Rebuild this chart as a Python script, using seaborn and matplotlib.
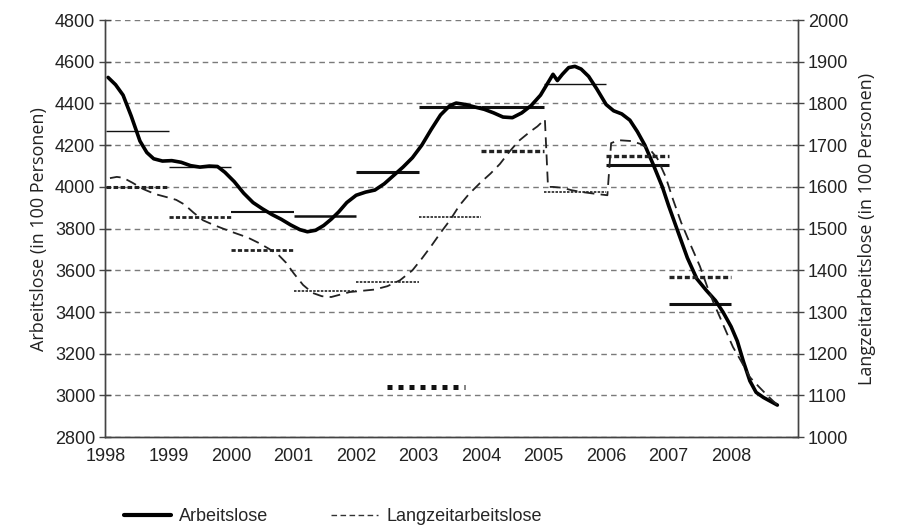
import matplotlib
matplotlib.use("Agg")
import matplotlib.pyplot as plt
from matplotlib.lines import Line2D
import pandas as pd
import seaborn as sns


# Arbeitslose (left axis, in 100 Personen)
al_x = [1998.03, 1998.15, 1998.27, 1998.40, 1998.54, 1998.65, 1998.76, 1998.90, 1999.05,
        1999.20, 1999.35, 1999.50, 1999.65, 1999.78, 1999.90, 2000.05, 2000.20, 2000.35,
        2000.50, 2000.65, 2000.80, 2000.95, 2001.10, 2001.22, 2001.35, 2001.48, 2001.60,
        2001.72, 2001.85, 2002.00, 2002.15, 2002.30, 2002.45, 2002.60, 2002.75, 2002.90,
        2003.05, 2003.20, 2003.35, 2003.50, 2003.60, 2003.75, 2003.90, 2004.05, 2004.20,
        2004.35, 2004.50, 2004.65, 2004.80, 2004.95, 2005.08, 2005.15, 2005.22, 2005.30,
        2005.40, 2005.50, 2005.60, 2005.72, 2005.85, 2006.00, 2006.12, 2006.25, 2006.38,
        2006.50, 2006.62, 2006.75, 2006.90, 2007.00, 2007.14, 2007.30, 2007.45, 2007.60,
        2007.75, 2007.87, 2008.00, 2008.10, 2008.20, 2008.30, 2008.40, 2008.52, 2008.74]
al_y = [4525, 4490, 4440, 4340, 4220, 4165, 4135, 4124, 4126,
        4118, 4102, 4095, 4100, 4098, 4070, 4025, 3970, 3925,
        3895, 3868, 3845, 3818, 3795, 3785, 3792, 3815, 3845,
        3880, 3925, 3960, 3975, 3985, 4015, 4055, 4095, 4140,
        4200, 4275, 4345, 4390, 4402, 4395, 4383, 4372, 4355,
        4335, 4332, 4355, 4390, 4440, 4505, 4540, 4510, 4540,
        4572, 4578, 4565, 4530, 4470, 4395, 4365, 4350, 4320,
        4265, 4200, 4110, 4000, 3910, 3793, 3660, 3560, 3505,
        3455, 3400, 3330, 3260, 3160, 3070, 3015, 2990, 2954]

# Langzeitarbeitslose (right axis, in 100 Personen)
lz_x = [1998.06, 1998.17, 1998.27, 1998.42, 1998.59, 1998.78, 1998.98, 1999.12, 1999.25,
        1999.40, 1999.55, 1999.70, 1999.87, 2000.05, 2000.26, 2000.45, 2000.60, 2000.75,
        2000.88, 2001.00, 2001.15, 2001.30, 2001.45, 2001.60, 2001.75, 2001.90, 2002.10,
        2002.30, 2002.50, 2002.70, 2002.90, 2003.05, 2003.20, 2003.35, 2003.50, 2003.65,
        2003.80, 2003.98, 2004.15, 2004.30, 2004.45, 2004.60, 2004.78, 2004.90, 2005.02,
        2005.07, 2005.15, 2005.30, 2005.45, 2005.60, 2005.80, 2006.02, 2006.08, 2006.20,
        2006.40, 2006.55, 2006.70, 2006.82, 2006.95, 2007.07, 2007.20, 2007.34, 2007.50,
        2007.62, 2007.72, 2007.82, 2007.93, 2008.03, 2008.15, 2008.30, 2008.45, 2008.60,
        2008.74]
lz_y = [1621, 1624, 1622, 1610, 1595, 1583, 1575, 1569, 1558,
        1538, 1520, 1510, 1500, 1490, 1479, 1465, 1452, 1438,
        1418, 1393, 1365, 1346, 1338, 1336, 1342, 1348, 1351,
        1354, 1362, 1376, 1400, 1428, 1458, 1490, 1520, 1555,
        1582, 1609, 1632, 1655, 1684, 1710, 1732, 1745, 1762,
        1600, 1600, 1598, 1592, 1588, 1584, 1580, 1705, 1712,
        1710, 1703, 1690, 1668, 1625, 1570, 1515, 1465, 1410,
        1360, 1322, 1288, 1250, 1216, 1185, 1144, 1120, 1097,
        1077]

# yearly means
years = [1998, 1999, 2000, 2001, 2002, 2003, 2004, 2005, 2006, 2007]
al_mean = [4268, 4095, 3879, 3860, 4071, 4385, 4383, 4493, 4105, 3438]
lz_mean = [1600, 1527, 1448, 1350, 1372, 1527, 1686, 1588, 1674, 1384]

# stray marker in the plot area
stray_x = [2002.5, 2003.74]
stray_y = [3040, 3040]

x_ticks = list(range(1998, 2010))
x_labels = [str(y) for y in range(1998, 2009)] + [""]


def main():
    sns.set_style("white")
    plt.rcParams["font.family"] = ["Liberation Sans", "DejaVu Sans"]
    ink = "#222222"

    fig, ax = plt.subplots(figsize=(8.97, 5.28), dpi=100)
    fig.subplots_adjust(left=0.117, right=0.8896, top=0.962, bottom=0.172)
    ax2 = ax.twinx()

    al = pd.DataFrame({"jahr": al_x, "wert": al_y})
    lz = pd.DataFrame({"jahr": lz_x, "wert": lz_y})

    # grid
    for v in range(2800, 4801, 200):
        ax.axhline(v, color="#7a7a7a", lw=1.0, ls=(0, (4, 3)), zorder=0)

    sns.lineplot(data=al, x="jahr", y="wert", ax=ax, color="black", lw=2.6,
                 estimator=None, sort=False, zorder=5, solid_joinstyle="round")
    sns.lineplot(data=lz, x="jahr", y="wert", ax=ax2, color="#222222", lw=1.3,
                 ls=(0, (6, 3.5)), estimator=None, sort=False, zorder=5)

    al_lw = [1.0, 1.0, 1.5, 1.8, 2.2, 2.2, 2.2, 1.0, 2.2, 2.2]
    lz_lw = [2.2, 2.0, 2.0, 1.2, 1.2, 1.2, 2.4, 1.2, 2.4, 2.4]
    for yr, m, w in zip(years, al_mean, al_lw):
        ax.plot([yr, yr + 1], [m, m], color="#111111", lw=w, solid_capstyle="butt", zorder=4)
    for yr, m, w in zip(years, lz_mean, lz_lw):
        ax2.plot([yr, yr + 1], [m, m], color="#222222", lw=w, ls=(0, (1.5, 0.8)), zorder=4)

    ax.plot(stray_x, stray_y, color="#111111", lw=3.6, ls=(0, (1, 1.2)), zorder=4)

    ax.set_xlim(1997.98, 2009.07)
    ax.set_ylim(2800, 4800)
    ax2.set_ylim(1000, 2000)
    ax.set_xticks(x_ticks)
    ax.set_xticklabels(x_labels)
    ax.set_yticks(range(2800, 4801, 200))
    ax2.set_yticks(range(1000, 2001, 100))

    ax.set_xlabel("")
    ax2.set_xlabel("")
    ax.set_ylabel("Arbeitslose (in 100 Personen)", fontsize=13, color=ink,
                  family=["Open Sans", "DejaVu Sans"], labelpad=5)
    ax2.set_ylabel("Langzeitarbeitslose (in 100 Personen)", fontsize=13, color=ink,
                   family=["Open Sans", "DejaVu Sans"], labelpad=7)

    ax.tick_params(axis="y", direction="inout", length=8, width=1, colors="#444444",
                   labelcolor=ink, labelsize=13, pad=3)
    ax.tick_params(axis="x", direction="out", length=5, width=1, colors="#444444",
                   labelcolor=ink, labelsize=13, pad=3)
    ax2.tick_params(axis="y", direction="inout", length=8, width=1, colors="#444444",
                    labelcolor=ink, labelsize=13, pad=3)

    for a in (ax, ax2):
        a.spines["top"].set_visible(False)
        for s in ("left", "right", "bottom"):
            a.spines[s].set_color("#444444")
            a.spines[s].set_linewidth(1.0)
        a.grid(False)

    handles = [
        Line2D([], [], color="black", lw=3.0),
        Line2D([], [], color="#333333", lw=1.0, ls=(0, (4, 2.5))),
    ]
    fig.legend(handles, ["Arbeitslose", "Langzeitarbeitslose"], loc="center left",
               bbox_to_anchor=(0.120, 0.021), ncol=2, frameon=False,
               prop={"family": ["Liberation Sans", "DejaVu Sans"], "size": 13},
               handlelength=2.6, columnspacing=3.5, handletextpad=0.45)

    fig.savefig("out.png", dpi=100)


if __name__ == "__main__":
    main()
